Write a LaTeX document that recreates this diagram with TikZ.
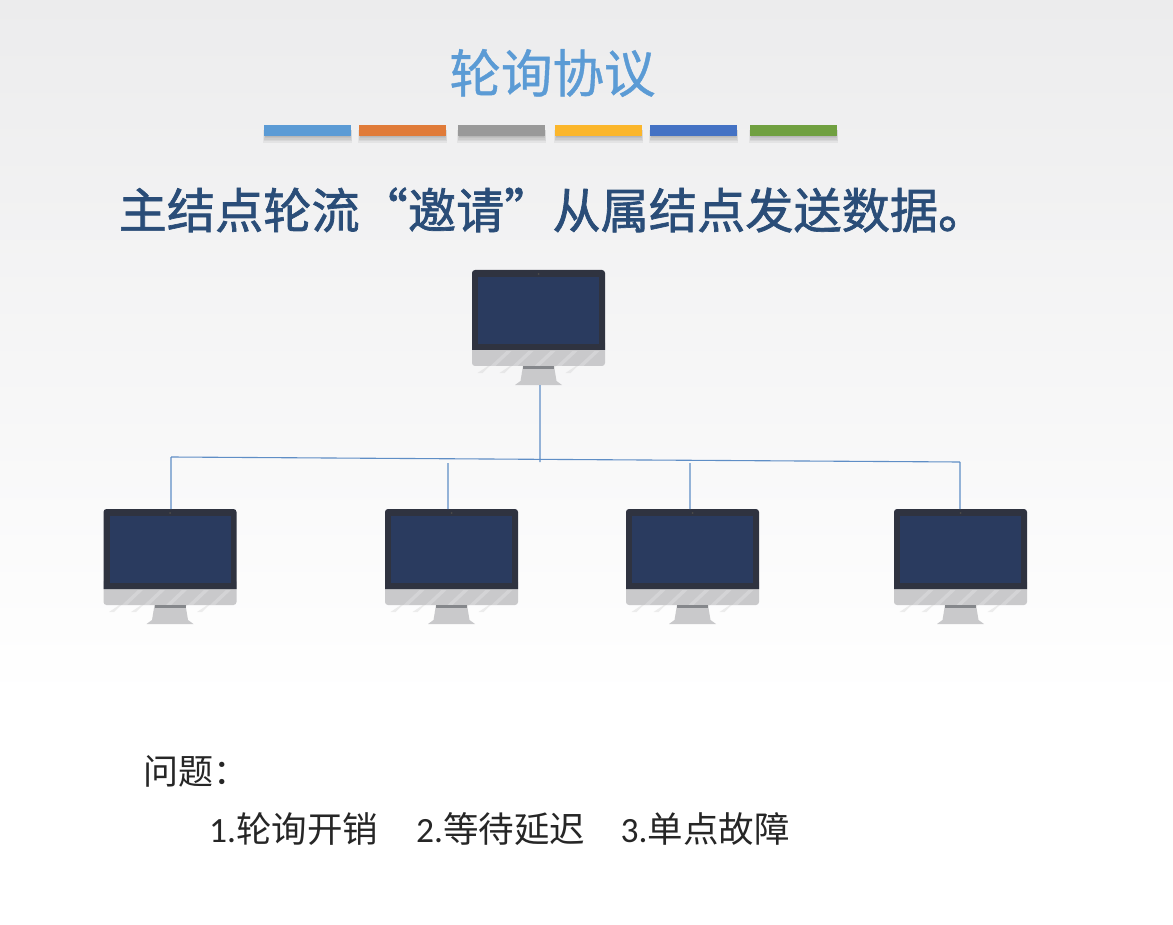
\documentclass[tikz,border=0pt]{standalone}
\usepackage{fontspec}
\setmainfont{Carlito}
\newfontfamily\cjk{Noto Sans CJK SC}
\newfontfamily\cjktitle[FakeBold=0.8]{Noto Sans CJK SC}
\newfontfamily\cjkhead[FakeBold=1.4]{Noto Sans CJK SC}
\usepackage{tikz}
\usetikzlibrary{positioning}
\definecolor{bgtop}{HTML}{ECECED}
\definecolor{titleblue}{HTML}{5B9BD5}
\definecolor{headblue}{HTML}{2A4D78}
\definecolor{linkblue}{HTML}{5F8EC6}
\definecolor{frameblack}{HTML}{2F3340}
\definecolor{screenblue}{HTML}{2A3B5F}
\definecolor{chingray}{HTML}{C9C9CB}
\definecolor{neckgray}{HTML}{85878B}
\definecolor{barA}{HTML}{5B9BD5}
\definecolor{barB}{HTML}{E07B39}
\definecolor{barC}{HTML}{999999}
\definecolor{barD}{HTML}{FBB62B}
\definecolor{barE}{HTML}{4472C4}
\definecolor{barF}{HTML}{70A040}
\tikzset{
    x=1pt, y=-1pt, % pixel coordinates of the slide
    monbody/.style={minimum width=133pt, minimum height=80pt, inner sep=0pt, outer sep=0pt, anchor=north},
    monscreen/.style={fill=screenblue, minimum width=121pt, minimum height=67pt, inner sep=0pt, outer sep=0pt, anchor=north},
    monitor/.pic={
        \foreach \s in {-44,-22,0,22,44} {
            \fill[gray!50, opacity=.26] (\s-17,103) -- (\s-12,103) -- (\s+12,80) -- (\s+17,80) -- cycle;
        }
        \fill[chingray, rounded corners=3pt] (-66.5,70) rectangle (66.5,96);
        \foreach \s in {-44,-22,0,22,44} {
            \fill[white, opacity=.22] (\s-4,96) -- (\s+1,96) -- (\s+17,81) -- (\s+12,81) -- cycle;
        }
        \fill[frameblack] (-66.5,80) {[rounded corners=3pt] -- (-66.5,0) -- (66.5,0)} -- (66.5,80) -- cycle;
        \node[monbody] (-body) at (0,0) {};
        \node[monscreen] (-screen) at (0,7) {};
        \node[circle, fill=gray!60!black, inner sep=0pt, minimum size=2pt] (-cam) at (0,4) {};
        \fill[chingray] (-15.5,96) -- (15.5,96) -- (18,111) -- (23.5,115) -- (-23.5,115) -- (-18,111) -- cycle;
        \fill[neckgray] (-15.5,96) rectangle (15.5,99);
        \coordinate (-base) at (0,115);
    },
    buslink/.style={draw=linkblue, line width=1.1pt},
    colourbar/.style={minimum width=87pt, minimum height=11pt, inner sep=0pt, outer sep=0pt, anchor=west},
}
\begin{document}
\begin{tikzpicture}
    \useasboundingbox (0,0) rectangle (1173,925);
    \fill[white] (0,0) rectangle (1173,925);
    \shade[top color=bgtop, bottom color=white] (0,0) rectangle (1173,700);

    \node[font=\cjktitle\fontsize{51.5}{52}\selectfont, text=titleblue] (title) at (552.5,73) {轮询协议};

    \foreach \x/\barcol [count=\i] in {264/barA,359/barB,458/barC,555/barD,650/barE,750/barF} {
        \foreach \g in {0,1,2,3,4} {
            \fill[black, opacity=.05] (\x-\g/2+1,130) rectangle (\x+86+\g/2,137+1.5*\g);
        }
        \node[colourbar, fill=\barcol] (bar\i) at (\x,130.5) {};
    }

    \node[font=\cjkhead\fontsize{48.2}{48}\selectfont, text=headblue, anchor=west, inner sep=0pt] (head) at (118.5,210) {主结点轮流“邀请”从属结点发送数据。};

    \pic (m0) at (538.5,270) {monitor};
    \pic (m1) at (170,509) {monitor};
    \pic (m2) at (451.5,509) {monitor};
    \pic (m3) at (692.5,509) {monitor};
    \pic (m4) at (960.5,509) {monitor};

    \coordinate (busl) at (171,457);
    \coordinate (busm) at (540,462);
    \coordinate (busr) at (960,462);
    \coordinate (dropb) at (448,463);
    \coordinate (dropc) at (690,463);
    \draw[buslink]
    (m0-base -| busm) -- (busm)
    (busl) -- (busr)
    (busl) -- (busl |- m1-body.north)
    (dropb) -- (dropb |- m2-body.north)
    (dropc) -- (dropc |- m3-body.north)
    (busr) -- (busr |- m4-body.north);

    \node[font=\cjk\fontsize{35}{35}\selectfont, text=black!85, anchor=west, inner sep=0pt] (question) at (143,771) {问题：};
    \node[font=\fontsize{35.5}{36}\selectfont, text=black!85, anchor=west, inner sep=0pt] (costs) at (209,829) {1.{\cjk 轮询开销}\hspace{38pt}2.{\cjk 等待延迟}\hspace{35.5pt}3.{\cjk 单点故障}};
\end{tikzpicture}
\end{document}
